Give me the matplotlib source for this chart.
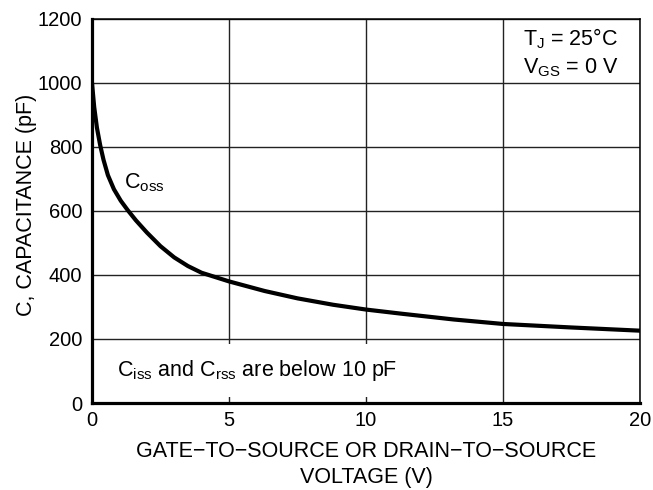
import matplotlib

matplotlib.use("Agg")
import matplotlib.pyplot as plt

# Coss vs drain-to-source voltage
voltage = [0, 0.08, 0.18, 0.3, 0.42, 0.58, 0.8, 1.05, 1.3, 1.6, 2.0, 2.5,
           3.0, 3.5, 4.0, 5.0, 6.3, 7.5, 8.8, 10, 11.3, 13.2, 15, 17.5, 20]
coss = [1000, 925, 860, 805, 760, 712, 668, 632, 603, 571, 533, 490,
        455, 428, 407, 380, 350, 327, 307, 292, 279, 261, 247, 236, 226]

x_ticks = [0, 5, 10, 15, 20]
y_ticks = [0, 200, 400, 600, 800, 1000, 1200]

plt.rcParams["font.family"] = ["Liberation Sans", "DejaVu Sans"]
plt.rcParams["mathtext.default"] = "regular"

fig = plt.figure(figsize=(6.53, 4.9), dpi=100)
ax = fig.add_axes([92 / 653, 1 - 403 / 490, 548 / 653, 384 / 490])

ax.plot(voltage, coss, color="black", lw=3, solid_joinstyle="round", zorder=3)

ax.set_xlim(0, 20)
ax.set_ylim(0, 1200)
ax.set_xticks(x_ticks)
ax.set_yticks(y_ticks)
ax.tick_params(length=0, labelsize=14.5)
ax.tick_params(axis="y", pad=7)
ax.tick_params(axis="x", pad=6)
ax.grid(color="#222222", lw=1.0)
ax.set_axisbelow(True)

for side in ("left", "bottom"):
    ax.spines[side].set_linewidth(2.3)
for side in ("top", "right"):
    ax.spines[side].set_linewidth(1.1)

ax.set_ylabel("C, CAPACITANCE (pF)", fontsize=15.5)
ax.yaxis.set_label_coords(-0.1, 0.515)
ax.set_xlabel("GATE\u2212TO\u2212SOURCE OR DRAIN\u2212TO\u2212SOURCE\nVOLTAGE (V)",
              fontsize=15.5, linespacing=1.3)
ax.xaxis.set_label_coords(0.5, -0.1)

ax.text(1.17, 688, "C$_{oss}$", fontsize=15.5, va="center", ha="left")
ax.text(0.9, 103, "C$_{iss}$ and C$_{rss}$ are below 10 pF", fontsize=15.5,
        va="center", ha="left", zorder=2,
        bbox=dict(boxstyle="square,pad=0.65", fc="white", ec="none"))
ax.text(15.73, 1095, "T$_J$ = 25\u00b0C\nV$_{GS}$ = 0 V", fontsize=15.5,
        va="center", ha="left", linespacing=1.3)

fig.savefig("out.png", dpi=100)
